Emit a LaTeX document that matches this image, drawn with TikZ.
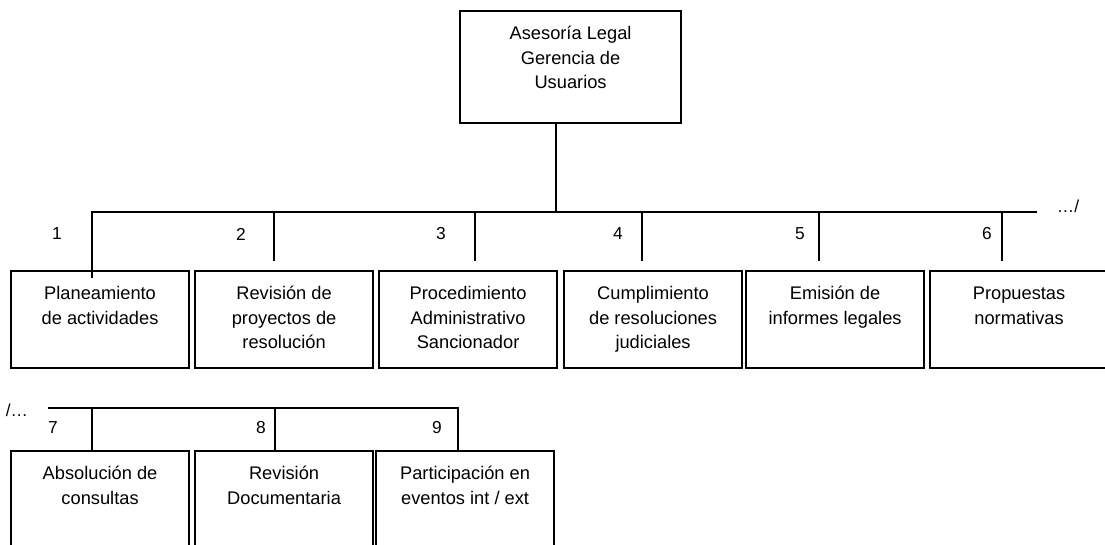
\documentclass[tikz,border=0pt]{standalone}
\usepackage{fontspec}
\setmainfont{Liberation Sans}
\newcommand\orgfont{\fontsize{13.7pt}{18.4pt}\selectfont}
\newcommand\orgnumfont{\fontsize{13pt}{15pt}\selectfont}
\begin{document}
\begin{tikzpicture}[x=0.75pt,y=-0.75pt,
  orgbox/.style={draw, line width=1.6pt, rectangle, anchor=north west, inner sep=0pt,
                 minimum width=133.5pt, minimum height=72.75pt},
  lowbox/.style={orgbox, minimum height=82.5pt},
  orgtxt/.style={anchor=north, inner sep=0pt, align=center, font=\orgfont, yshift=-9.2pt},
  orgnum/.style={inner sep=0pt, font=\orgnumfont},
  conn/.style={line width=1pt}]
\path[use as bounding box] (0,0) rectangle (1105,545);
\clip (0,0) rectangle (1105,545);

% head box
\node[orgbox, minimum width=165.75pt, minimum height=84pt] (top) at (459,10) {};
\node[orgtxt] (ttop) at (top.north) {\strut Asesoría Legal\\Gerencia de\\Usuarios};

% first row
\node[orgbox] (b1) at (10,270) {};
\node[orgbox] (b2) at (194,270) {};
\node[orgbox] (b3) at (378,270) {};
\node[orgbox] (b4) at (563,270) {};
\node[orgbox] (b5) at (745,270) {};
\node[orgbox] (b6) at (929,270) {};
\node[orgtxt] (t1) at (b1.north) {\strut Planeamiento\\de actividades};
\node[orgtxt] (t2) at (b2.north) {\strut Revisión de\\proyectos de\\resolución};
\node[orgtxt] (t3) at (b3.north) {\strut Procedimiento\\Administrativo\\Sancionador};
\node[orgtxt] (t4) at (b4.north) {\strut Cumplimiento\\de resoluciones\\judiciales};
\node[orgtxt] (t5) at (b5.north) {\strut Emisión de\\informes legales};
\node[orgtxt] (t6) at (b6.north) {\strut Propuestas\\normativas};

% second row
\node[lowbox] (b7) at (10,450) {};
\node[lowbox] (b8) at (194,450) {};
\node[lowbox] (b9) at (375,450) {};
\node[orgtxt] (t7) at (b7.north) {\strut Absolución de\\consultas};
\node[orgtxt] (t8) at (b8.north) {\strut Revisión\\Documentaria};
\node[orgtxt] (t9) at (b9.north) {\strut Participación en\\eventos int / ext};

% connectors, first row
\coordinate (bj) at (556,212);
\coordinate (busL) at (92,212);
\coordinate (busR) at (1037,212);
\coordinate (e1) at (92,278);
\coordinate (e2) at (274,261);
\coordinate (e3) at (475,261);
\coordinate (e4) at (642,261);
\coordinate (e5) at (819,261);
\coordinate (e6) at (1002,261);
\draw[conn] (top.south -| bj) -- (bj);
\draw[conn] (e1) -- (busL) -- (busR);
\draw[conn] (e2 |- busL) -- (e2);
\draw[conn] (e3 |- busL) -- (e3);
\draw[conn] (e4 |- busL) -- (e4);
\draw[conn] (e5 |- busL) -- (e5);
\draw[conn] (e6 |- busL) -- (e6);

% connectors, second row
\coordinate (lbL) at (48,408);
\coordinate (lbR) at (458,408);
\coordinate (e7) at (92,451);
\coordinate (e8) at (275,451);
\coordinate (e9) at (458,451);
\draw[conn] (lbL) -- (lbR) -- (e9);
\draw[conn] (e7 |- lbL) -- (e7);
\draw[conn] (e8 |- lbL) -- (e8);

% numbers
\node[orgnum] (n1) at (57,234) {1};
\node[orgnum] (n2) at (241,234) {2};
\node[orgnum] (n3) at (441,234) {3};
\node[orgnum] (n4) at (618,234) {4};
\node[orgnum] (n5) at (800,234) {5};
\node[orgnum] (n6) at (987,234) {6};
\node[orgnum] (n7) at (53,428) {7};
\node[orgnum] (n8) at (261,428) {8};
\node[orgnum] (n9) at (437,428) {9};
\node[orgnum] (cont1) at (1068,206) {…/};
\node[orgnum] (cont2) at (17,410) {/…};
\end{tikzpicture}
\end{document}
